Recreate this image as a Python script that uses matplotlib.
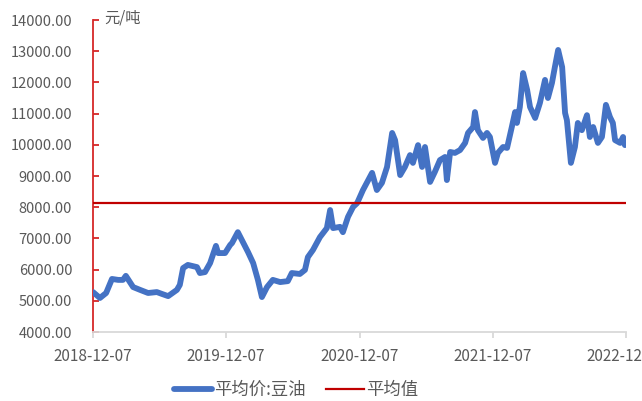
import matplotlib
matplotlib.use("Agg")
import matplotlib.pyplot as plt
import matplotlib.dates as mdates
import pandas as pd

plt.rcParams['font.family'] = ['Noto Sans CJK SC', 'DejaVu Sans']

dates = [
    "2018-12-07", "2018-12-26", "2019-01-12", "2019-01-28", "2019-02-14", "2019-02-27",
    "2019-03-07", "2019-03-27", "2019-04-15", "2019-05-07", "2019-05-31", "2019-06-14",
    "2019-07-01", "2019-07-25", "2019-08-02", "2019-08-11", "2019-08-24", "2019-09-18",
    "2019-09-26", "2019-10-10", "2019-10-24", "2019-11-09", "2019-11-15", "2019-12-04",
    "2019-12-18", "2019-12-23", "2020-01-08", "2020-01-22", "2020-02-05", "2020-02-19",
    "2020-03-03", "2020-03-14", "2020-03-28", "2020-04-13", "2020-05-03", "2020-05-24",
    "2020-06-04", "2020-06-26", "2020-07-10", "2020-07-18", "2020-08-01", "2020-08-20",
    "2020-09-08", "2020-09-17", "2020-09-25", "2020-10-14", "2020-10-22", "2020-11-05",
    "2020-11-19", "2020-11-30", "2020-12-16", "2021-01-10", "2021-01-23", "2021-02-06",
    "2021-02-20", "2021-03-06", "2021-03-14", "2021-03-28", "2021-04-10", "2021-04-24",
    "2021-05-02", "2021-05-16", "2021-05-27", "2021-06-04", "2021-06-18", "2021-07-01",
    "2021-07-15", "2021-07-29", "2021-08-03", "2021-08-12", "2021-08-25", "2021-09-08",
    "2021-09-22", "2021-09-30", "2021-10-14", "2021-10-19", "2021-10-27", "2021-11-10",
    "2021-11-21", "2021-11-29", "2021-12-13", "2021-12-21", "2022-01-04", "2022-01-15",
    "2022-01-28", "2022-02-06", "2022-02-11", "2022-02-19", "2022-02-28", "2022-03-11",
    "2022-03-19", "2022-04-02", "2022-04-15", "2022-04-29", "2022-05-07", "2022-05-18",
    "2022-05-26", "2022-06-04", "2022-06-15", "2022-06-23", "2022-06-28", "2022-07-09",
    "2022-07-20", "2022-07-28", "2022-08-08", "2022-08-22", "2022-08-30", "2022-09-08",
    "2022-09-21", "2022-10-02", "2022-10-13", "2022-10-24", "2022-11-01", "2022-11-07",
    "2022-11-21", "2022-11-29", "2022-12-04",
]
soy_oil = [
    5280, 5090, 5250, 5700, 5670, 5670,
    5800, 5440, 5350, 5250, 5280, 5220,
    5150, 5350, 5510, 6050, 6150, 6080,
    5890, 5920, 6210, 6760, 6530, 6530,
    6790, 6850, 7200, 6880, 6560, 6210,
    5670, 5120, 5440, 5670, 5600, 5630,
    5890, 5860, 5990, 6400, 6630, 7040,
    7330, 7910, 7330, 7370, 7200, 7690,
    8010, 8130, 8550, 9100, 8550, 8780,
    9290, 10380, 10150, 9030, 9290, 9670,
    9420, 9990, 9290, 9930, 8810, 9130,
    9510, 9610, 8870, 9770, 9740, 9830,
    10060, 10380, 10570, 11050, 10470, 10220,
    10380, 10250, 9420, 9740, 9930, 9900,
    10570, 11050, 10700, 11210, 12300, 11760,
    11210, 10860, 11340, 12080, 11500, 11980,
    12490, 13040, 12490, 11020, 10790, 9420,
    9930, 10700, 10470, 10950, 10250, 10570,
    10060, 10250, 11280, 10890, 10700, 10150,
    10060, 10250, 9990,
]
mean_value = 8130

x_ticks = ["2018-12-07", "2019-12-07", "2020-12-07", "2021-12-07", "2022-12-07"]
y_ticks = [4000, 5000, 6000, 7000, 8000, 9000, 10000, 11000, 12000, 13000, 14000]

series_name = "平均价:豆油"
mean_name = "平均值"
unit_label = "元/吨"

blue = "#4472C4"
red = "#C00000"
gray_text = "#595959"

fig = plt.figure(figsize=(6.42, 4.01), dpi=100)
ax = fig.add_axes([93/642, 1 - 332/401, (626 - 93)/642, (332 - 20)/401])

d = pd.to_datetime(dates)
ax.plot(d, soy_oil, color=blue, lw=4.2, solid_joinstyle='round', solid_capstyle='round',
        label=series_name, zorder=3)
ax.axhline(mean_value, color=red, lw=1.6, label=mean_name, zorder=4)

ax.set_xlim(pd.Timestamp(x_ticks[0]), pd.Timestamp(x_ticks[-1]))
ax.set_ylim(y_ticks[0], y_ticks[-1])
ax.set_xticks(pd.to_datetime(x_ticks))
ax.xaxis.set_major_formatter(mdates.DateFormatter("%Y-%m-%d"))
ax.set_yticks(y_ticks)
ax.set_yticklabels([f"{v:.2f}" for v in y_ticks])

for s in ["top", "right"]:
    ax.spines[s].set_visible(False)
ax.spines["left"].set_color("#D62828")
ax.spines["left"].set_linewidth(1.3)
ax.spines["bottom"].set_color("#D9D9D9")
ax.spines["bottom"].set_linewidth(1.3)

ax.tick_params(axis="y", direction="in", length=4.5, width=1.3, color="#D62828",
               labelsize=10.5, labelcolor=gray_text, pad=15)
ax.tick_params(axis="x", direction="out", length=4.5, width=1.3, color="#D9D9D9",
               labelsize=11, labelcolor=gray_text, pad=7)

for lbl in ax.get_xticklabels():
    lbl.set_clip_on(False)

fig.text(104/642, 1 - 18/401, unit_label, fontsize=11, color=gray_text,
         ha="left", va="center")

fig.legend(loc="center", bbox_to_anchor=(296/642, 1 - 390/401), ncol=2, frameon=False,
           fontsize=12.5, labelcolor=gray_text, handlelength=2.2, handletextpad=0.1,
           columnspacing=1.15)

fig.savefig("out.png", dpi=100)
